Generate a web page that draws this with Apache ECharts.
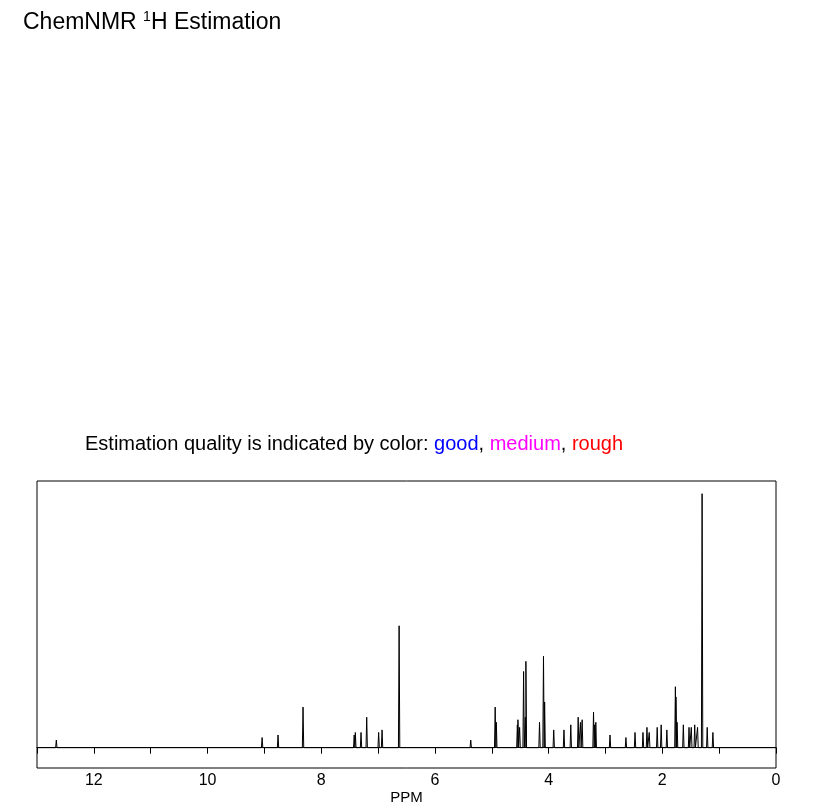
<!DOCTYPE html>
<html><head><meta charset="utf-8">
<script src="https://cdn.jsdelivr.net/npm/echarts@6/dist/echarts.min.js"></script>
<style>html,body{margin:0;padding:0;background:#fff}#c{width:829px;height:811px}</style>
</head><body><div id="c"></div>
<script>
// peaks: ppm and relative height (0..100)
const peakPpm = [12.66,9.04,8.76,8.32,7.42,7.40,7.30,7.20,6.99,6.93,6.63,5.37,4.94,4.92,4.55,4.54,4.51,4.44,4.41,4.40,4.16,4.09,4.07,3.91,3.73,3.61,3.48,3.44,3.41,3.21,3.19,3.17,2.92,2.64,2.48,2.34,2.27,2.23,2.09,2.02,1.92,1.77,1.76,1.74,1.63,1.53,1.49,1.43,1.38,1.30,1.21,1.11];
const peakHeight = [3,4,5,16,5,6,6,12,6,7,48,3,16,10,9,11,8,30,12,34,10,36,18,7,7,9,12,10,11,14,9,10,5,4,6,6,8,6,8,9,7,24,20,10,9,8,8,9,8,100,8,6];
const xTicks = [12,10,8,6,4,2,0];

const data = [];
const order = peakPpm.map((p,i)=>i).sort((a,b)=>peakPpm[b]-peakPpm[a]);
data.push([13,0]);
order.forEach(i=>{const p=peakPpm[i];data.push([p+0.012,0],[p,peakHeight[i]],[p-0.012,0]);});
data.push([0,0]);

const F='Liberation Sans';
const chart = echarts.init(document.getElementById('c'));
chart.setOption({
  animation:false,
  title:[{left:18,top:5,text:'{a|ChemNMR }{s|1}{a|H Estimation}',textStyle:{fontWeight:'normal',rich:{a:{fontFamily:F,fontSize:23,fontWeight:'normal',color:'#000'},s:{fontFamily:F,fontSize:14,fontWeight:'normal',color:'#000',verticalAlign:'top',padding:[0,0,12,0]}}}},
   {left:80,top:429,text:'{k|Estimation quality is indicated by color: }{b|good}{k|, }{m|medium}{k|, }{r|rough}',textStyle:{fontWeight:'normal',rich:{k:{fontFamily:F,fontSize:20,fontWeight:'normal',color:'#000'},b:{fontFamily:F,fontSize:20,fontWeight:'normal',color:'#0000ff'},m:{fontFamily:F,fontSize:20,fontWeight:'normal',color:'#ff00ff'},r:{fontFamily:F,fontSize:20,fontWeight:'normal',color:'#ff0000'}}}}],
  grid:{left:37,right:53,top:481,bottom:43,show:true,borderColor:'#000',borderWidth:1},
  xAxis:{type:'value',min:0,max:13,inverse:true,interval:1,
    name:'PPM',nameLocation:'middle',nameGap:21,nameTextStyle:{fontFamily:F,fontSize:15,color:'#000'},
    axisLine:{lineStyle:{color:'#000'}},axisTick:{inside:false,length:6,lineStyle:{color:'#000'}},
    axisLabel:{fontFamily:F,fontSize:16,color:'#000',margin:5,formatter:v=>xTicks.includes(v)?String(v):''},
    splitLine:{show:false}},
  yAxis:{type:'value',min:-8,max:105,show:false},
  series:[{type:'line',data:data,symbol:'none',lineStyle:{color:'#000',width:1},silent:true}]
});
</script></body></html>
